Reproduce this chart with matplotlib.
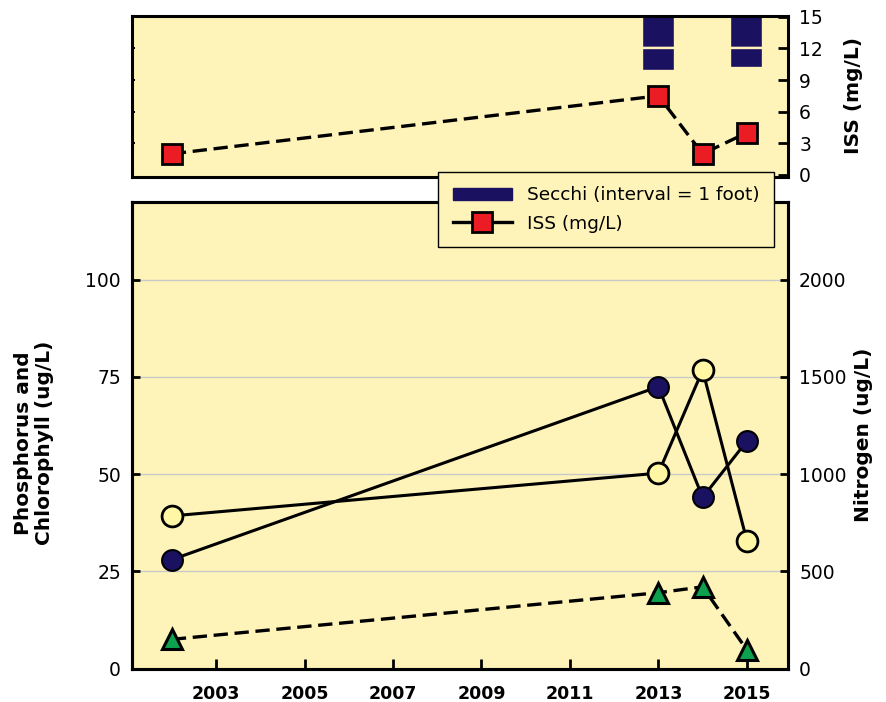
import matplotlib
matplotlib.use("Agg")
import matplotlib.pyplot as plt
import numpy as np
from matplotlib.lines import Line2D
from matplotlib.patches import Patch

# ---- data ----
years = [2002, 2013, 2014, 2015]
tp = [28.0, 72.5, 44.0, 58.5]          # navy circles, left axis (ug/L)
tn = [785, 1005, 1535, 658]            # yellow circles, right axis (ug/L)
chl = [7.5, 19.5, 21.0, 4.8]           # green triangles, left axis (ug/L)
iss = [2.0, 7.5, 2.0, 4.0]             # ISS (mg/L)
secchi_years = [2013, 2015]
secchi_depth = [1.71, 1.60]            # feet
xticks = [2003, 2005, 2007, 2009, 2011, 2013, 2015]
left_ticks = [0, 25, 50, 75, 100]
right_ticks = [0, 500, 1000, 1500, 2000]
iss_ticks = [0, 3, 6, 9, 12, 15]

BG = "#FEF4B9"
NAVY = "#1A1160"
YEL = "#FFF7A3"
GREEN = "#0DA04E"
RED = "#EC1C24"

plt.rcParams['font.family'] = ['DejaVu Sans']
fig = plt.figure(figsize=(8.87, 7.02), dpi=100)

W, H = 887, 702
def rect(l, r, t, b):
    return [l / W, 1 - b / H, (r - l) / W, (b - t) / H]

SPW = 2.2
ax_top = fig.add_axes(rect(132, 788, 15.7, 176.7))
ax = fig.add_axes(rect(132, 788, 202, 668.5))

xlim = (2001.1, 2015.93)

# ---- top panel ----
ax_sec = ax_top.twinx()
ax_sec.set_ylim(4.94, 0)
ax_sec.set_yticks([])
ax_sec.set_xlim(*xlim)
for s in ax_sec.spines.values():
    s.set_visible(False)
for yr, d in zip(secchi_years, secchi_depth):
    i = 0
    while i < d:
        top = min(i + 1, d)
        ax_sec.bar(yr, top - i, bottom=i, width=0.75, color=NAVY,
                   edgecolor=BG, linewidth=1.7, zorder=2)
        i += 1

ax_top.set_xlim(*xlim)
ax_top.set_ylim(-0.17, 15.1)
ax_top.set_xticks([])
ax_top.set_yticks(iss_ticks)
ax_top.yaxis.tick_right()
ax_top.yaxis.set_label_position('right')
ax_top.tick_params(axis='y', direction='in', length=7, width=2, labelsize=13.5, pad=8,
                   left=False, labelleft=False, right=True, labelright=True)
for s in ax_top.spines.values():
    s.set_linewidth(SPW)
sec_left = ax_top.secondary_yaxis('left', functions=(lambda v: v, lambda v: v))
sec_left.set_yticks([3, 6, 9, 12])
sec_left.tick_params(direction='in', length=2, width=1.5, labelleft=False)
sec_left.spines['left'].set_visible(False)

ax_top.set_zorder(ax_sec.get_zorder() + 1)
ax_top.patch.set_visible(False)
ax_sec.patch.set_visible(True)
ax_sec.patch.set_facecolor(BG)
ax_top.plot(years, iss, color='black', lw=2.4, linestyle=(0, (4.3, 2.0)),
            marker='s', markersize=14, markerfacecolor=RED,
            markeredgecolor='black', markeredgewidth=2, zorder=3, clip_on=False)

# ---- bottom panel ----
ax.set_facecolor(BG)
ax.set_xlim(*xlim)
ax.set_ylim(0, 120)
ax.set_yticks(left_ticks)
ax.set_xticks(xticks)
ax.set_xticklabels([str(x) for x in xticks], fontweight='bold', fontsize=12.5)
ax.tick_params(axis='x', direction='in', length=7, width=2, pad=12)
ax.tick_params(axis='y', direction='in', length=6, width=2, labelsize=13.5, pad=8)
ax.grid(axis='y', color='#C9C9C9', lw=1.0)
ax.set_axisbelow(True)
for s in ax.spines.values():
    s.set_linewidth(SPW)

ax2 = ax.twinx()
ax2.set_ylim(0, 2400)
ax2.set_yticks(right_ticks)
ax2.tick_params(axis='y', direction='in', length=6, width=2, labelsize=13.5, pad=8)
for s in ax2.spines.values():
    s.set_linewidth(SPW)

ax.plot(years, chl, color='black', lw=2.4, linestyle=(0, (4.3, 2.0)),
        marker='^', markersize=15, markerfacecolor=GREEN,
        markeredgecolor='black', markeredgewidth=2.2, zorder=3, clip_on=False)
ax2.plot(years, tn, color='black', lw=2.2, marker='o', markersize=15,
         markerfacecolor=YEL, markeredgecolor='black', markeredgewidth=2, zorder=3)
ax2.plot(years, [v * 20 for v in tp], color='black', lw=2.2,
         marker='o', markersize=15, markerfacecolor=NAVY, markeredgecolor='black',
         markeredgewidth=1.5, zorder=4)

# ---- labels ----
fig.text(34 / W, 1 - 443 / H, "Phosphorus and\nChlorophyll (ug/L)", rotation=90,
         ha='center', va='center', multialignment='center',
         fontsize=14.5, fontweight='bold', linespacing=1.15)
fig.text(864 / W, 1 - 435 / H, "Nitrogen (ug/L)", rotation=90, ha='center',
         va='center', fontsize=14.5, fontweight='bold')
fig.text(854 / W, 1 - 95 / H, "ISS (mg/L)", rotation=90, ha='center',
         va='center', fontsize=14.5, fontweight='bold')

# ---- legend ----
handles = [Patch(facecolor=NAVY, edgecolor=NAVY),
           Line2D([], [], color='black', lw=2.4, marker='s', markersize=14,
                  markerfacecolor=RED, markeredgecolor='black', markeredgewidth=2)]
leg = fig.legend(handles, ["Secchi (interval = 1 foot)", "ISS (mg/L)"],
                 loc='upper left', bbox_to_anchor=(438 / W, 1 - 171.7 / H),
                 frameon=True, fancybox=False, fontsize=13.3, handlelength=3.2,
                 handleheight=0.7, borderpad=0.8, labelspacing=0.55,
                 handletextpad=0.8, borderaxespad=0)
leg.get_frame().set_facecolor(BG)
leg.get_frame().set_edgecolor('black')
leg.get_frame().set_linewidth(1.0)
leg.get_frame().set_alpha(1)

fig.savefig("out.png", dpi=100)
